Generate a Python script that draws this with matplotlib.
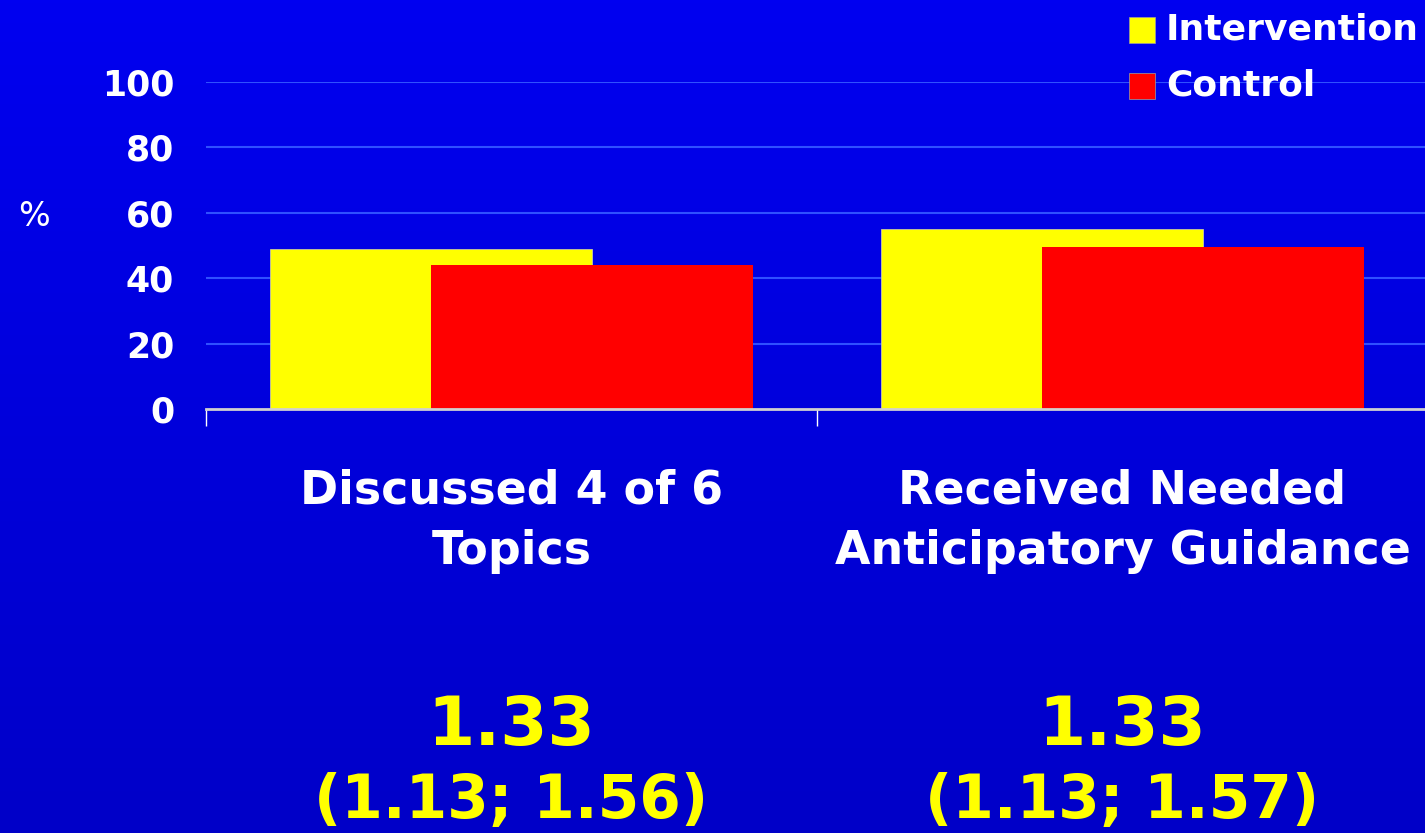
import matplotlib.pyplot as plt
import numpy as np

# data
categories = ["Discussed 4 of 6\nTopics", "Received Needed\nAnticipatory Guidance"]
intervention = [49, 55]
control = [44, 49.5]
ratios = ["1.33", "1.33"]
intervals = ["(1.13; 1.56)", "(1.13; 1.57)"]
yticks = [0, 20, 40, 60, 80, 100]

W, H = 1425, 833
fig = plt.figure(figsize=(W / 100, H / 100), dpi=100)

# blue gradient background
bg = fig.add_axes([0, 0, 1, 1], zorder=-10)
grad = np.linspace(0, 1, 256).reshape(-1, 1)
top = np.array([0, 0, 240]) / 255
bot = np.array([0, 0, 200]) / 255
img = top + (bot - top) * grad[:, :, None]
bg.imshow(img, aspect="auto", extent=[0, 1, 0, 1])
bg.axis("off")

ax = fig.add_axes([206 / W, (H - 409) / H, (1428 - 206) / W, (409 - 82) / H])
ax.patch.set_alpha(0)

x = np.arange(len(categories)) + 0.5
width = 0.527
off = 0.1318
ax.bar(x - off, intervention, width, color="#ffff00", edgecolor="#c8c8a0", linewidth=0.6, zorder=2)
ax.bar(x + off, control, width, color="#ff0000", linewidth=0, zorder=3)

ax.set_xlim(0, 2)
ax.set_ylim(0, 100)
ax.set_yticks(yticks)
ax.set_yticklabels([str(v) for v in yticks], fontsize=25, fontweight="bold", color="white")
ax.tick_params(axis="y", length=0, pad=23)
ax.set_xticks([0, 1, 2])
ax.set_xticklabels([])
ax.tick_params(axis="x", length=12, width=1, color="white", direction="out")
for g in yticks[1:]:
    ax.axhline(g, color="#2f50ff", linewidth=1.5, zorder=1)
for s in ["top", "right", "left"]:
    ax.spines[s].set_visible(False)
ax.spines["bottom"].set_color("#d0d0d0")
ax.spines["bottom"].set_linewidth(2)
ax.spines["bottom"].set_zorder(4)

# percent label
fig.text(34 / W, 1 - 216 / H, "%", fontsize=24, color="white", ha="center", va="center")

# category labels and ratios under the axis
for i, cat in enumerate(categories):
    xf = ax.transData.transform((x[i], 0))[0] / W
    fig.text(xf, 1 - 521 / H, cat, fontsize=33, fontweight="bold", color="white",
             ha="center", va="center", linespacing=1.45)
    fig.text(xf, 1 - 745 / H, ratios[i], fontsize=49, fontweight="bold", color="#ffff00",
             ha="center", va="baseline")
    fig.text(xf, 1 - 831 / H, intervals[i], fontsize=43, fontweight="bold", color="#ffff00",
             ha="center", va="bottom")

# legend drawn as squares with text
legend_items = [("Intervention", "#ffff00", 30), ("Control", "#ff0000", 86)]
for label, col, yc in legend_items:
    fig.patches.append(plt.Rectangle((1129 / W, 1 - (yc + 13) / H), 26 / W, 26 / H,
                                     transform=fig.transFigure, facecolor=col,
                                     edgecolor="#a0a0a0", linewidth=0.5))
    fig.text(1166 / W, 1 - yc / H, label, fontsize=26, fontweight="bold", color="white",
             ha="left", va="center")

fig.savefig("out.png", dpi=100)
